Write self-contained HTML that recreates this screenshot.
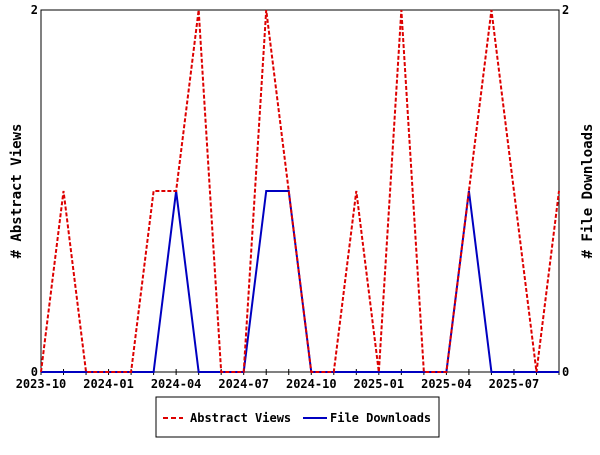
<!DOCTYPE html>
<html><head><meta charset="utf-8"><style>
body{margin:0;background:#fff;}
svg text{font-family:"DejaVu Sans Mono","Liberation Mono",monospace;font-size:12px;font-weight:bold;fill:#000;}
</style></head><body>
<svg id="chart" width="600" height="450" xmlns="http://www.w3.org/2000/svg">
<rect x="41" y="10" width="518" height="362" fill="#fff" stroke="#000" stroke-width="1"/>
<g id="axes"></g>
<g id="series"></g>
<text transform="translate(21,191) rotate(-90)" text-anchor="middle" style="font-size:14px"># Abstract Views</text>
<text transform="translate(592,191) rotate(-90)" text-anchor="middle" style="font-size:14px"># File Downloads</text>
<g>
<rect x="156" y="397" width="283" height="40" fill="#fff" stroke="#000"/>
<line x1="163" y1="418" x2="183" y2="418" stroke="#d00" stroke-width="2" stroke-dasharray="5,3"/>
<text x="190" y="422">Abstract Views</text>
<line x1="303" y1="418" x2="327" y2="418" stroke="#0000c0" stroke-width="2"/>
<text x="330" y="422">File Downloads</text>
</g>
</svg>
<script>
const tickLabels=["2023-10","2024-01","2024-04","2024-07","2024-10","2025-01","2025-04","2025-07"];
const tickIdx=[0,3,6,9,12,15,18,21];
const abstractViews=[0,1,0,0,0,1,1,2,0,0,2,1,0,0,1,0,2,0,0,1,2,1,0,1];
const fileDownloads=[0,0,0,0,0,0,1,0,0,0,1,1,0,0,0,0,0,0,0,1,0,0,0,0];
const yTicks=[0,2];
const NS="http://www.w3.org/2000/svg";
const x0=41,x1=559,yTop=10,yBot=372,yMax=2;
const n=abstractViews.length;
const xs=i=>x0+(x1-x0)*i/(n-1);
const ys=v=>yBot-(yBot-yTop)*v/yMax;
const axes=document.getElementById('axes'),series=document.getElementById('series');
function mk(tag,attrs,parent){const e=document.createElementNS(NS,tag);for(const k in attrs)e.setAttribute(k,attrs[k]);parent.appendChild(e);return e;}
for(let i=0;i<n;i++){
 const x=xs(i);
 const t=mk('line',{x1:x,y1:yBot-3,x2:x,y2:yBot+3,stroke:'#000'},axes);
 
 
}
tickIdx.forEach((ti,j)=>{
 const x=xs(ti);
 const l=mk('text',{x:x,y:yBot+16,'text-anchor':'middle'},axes);
 l.textContent=tickLabels[j];
 
 
});
yTicks.forEach(v=>{
 const y=ys(v);
 const a=mk('text',{x:x0-3,y:y+4,'text-anchor':'end'},axes);a.textContent=v;
 
 
 const b=mk('text',{x:x1+3,y:y+4,'text-anchor':'start'},axes);b.textContent=v;
 
 
});
function pts(arr){return arr.map((v,i)=>xs(i)+','+ys(v)).join(' ');}
const d=mk('polyline',{points:pts(fileDownloads),fill:'none',stroke:'#0000c0','stroke-width':2},series);


const a=mk('polyline',{points:pts(abstractViews),fill:'none',stroke:'#d00','stroke-width':2,'stroke-dasharray':'4,2'},series);


</script>
</body></html>
